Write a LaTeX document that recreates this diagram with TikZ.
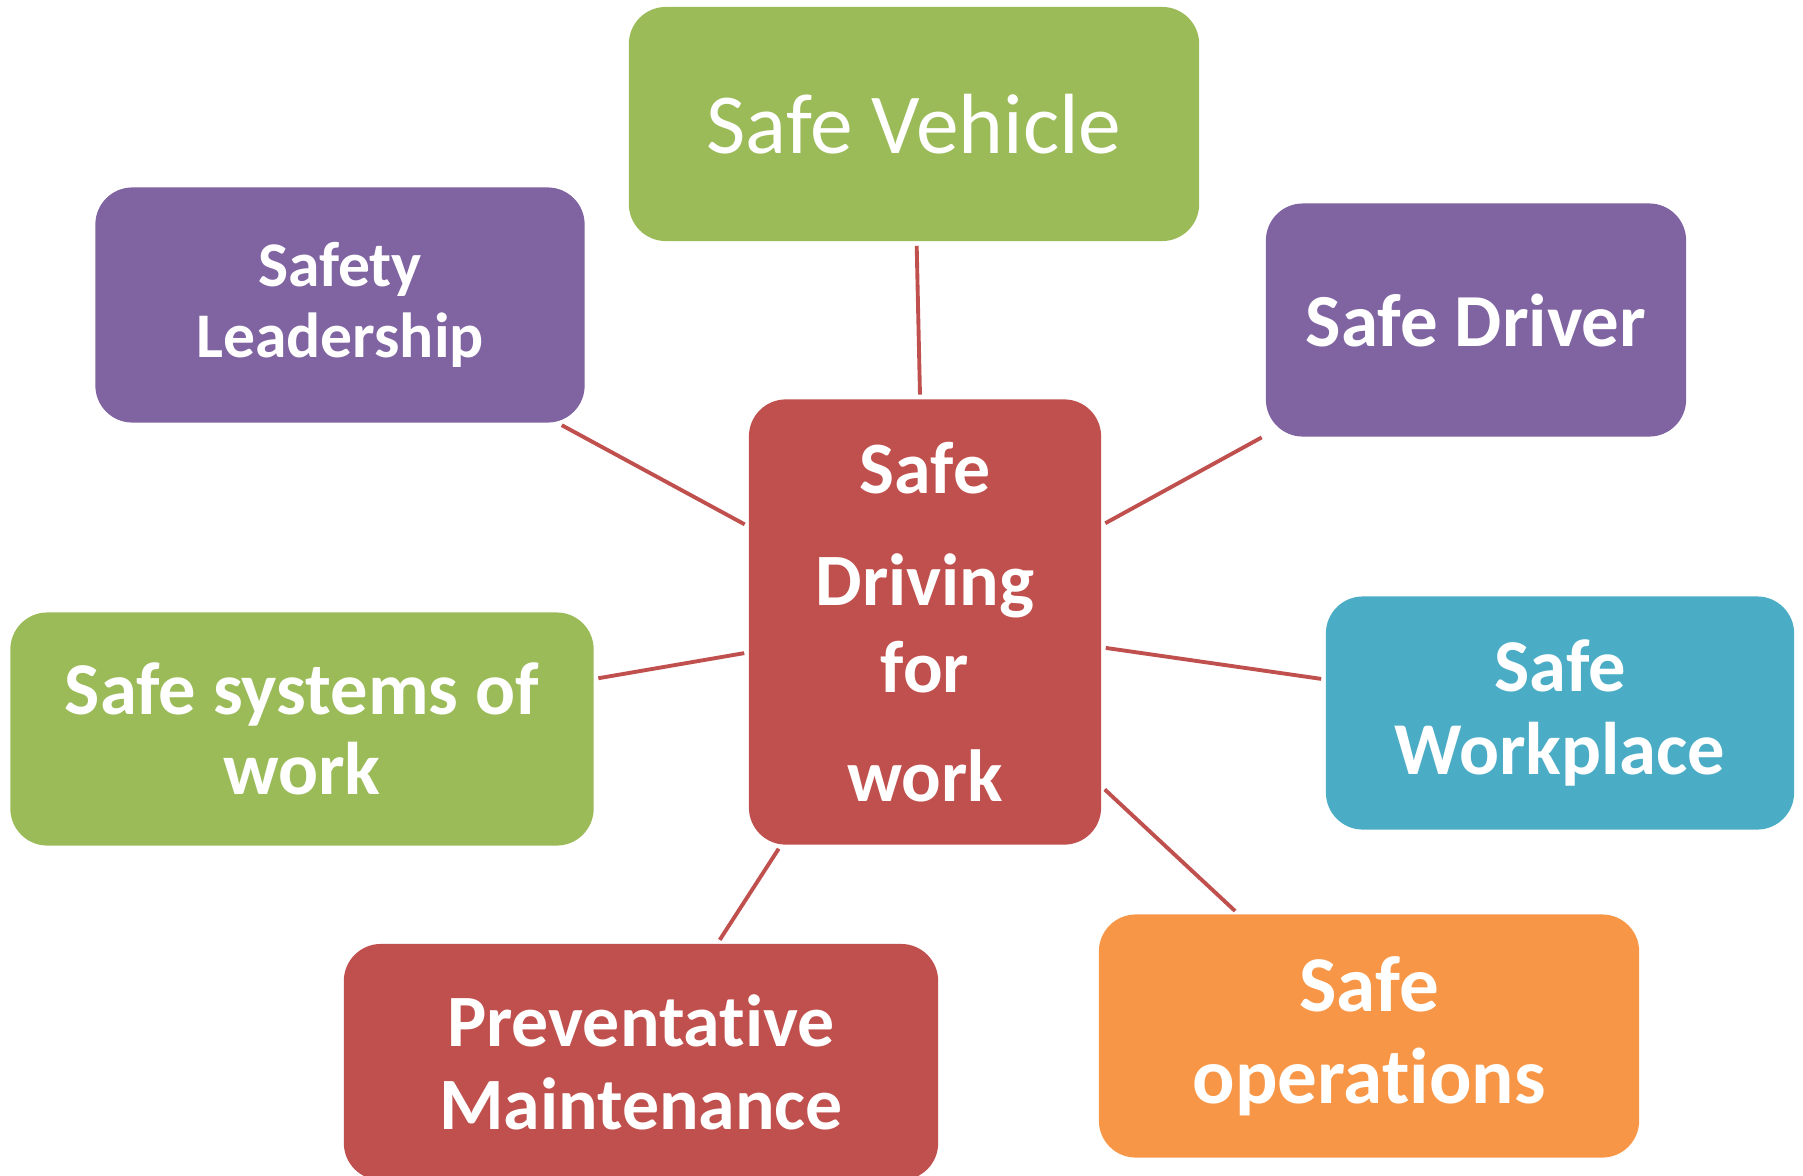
\documentclass[tikz,border=0pt]{standalone}
\usepackage{fontspec}
\setmainfont{Carlito}[RawFeature=-liga]
\definecolor{leafgreen}{HTML}{9BBB59}
\definecolor{plum}{HTML}{8064A2}
\definecolor{brick}{HTML}{C0504D}
\definecolor{aqua}{HTML}{4BACC6}
\definecolor{amber}{HTML}{F79646}

\begin{document}
\begin{tikzpicture}[x=0.01cm, y=-0.01cm, main/.style = {rounded corners=0.37cm, text=white, align=center, inner sep=0pt, minimum height=2.34cm}, link/.style = {draw=brick, line width=1.1pt, shorten <=0.04cm, shorten >=0.04cm}]
    \useasboundingbox (0,0) rectangle (1803,1175);
    \node[main, fill=brick, minimum width=3.52cm, minimum height=4.45cm, font=\bfseries\fontsize{21}{24.5}\selectfont] (hub) at (925,622) {Safe\\[7.4pt] Driving\\ for\\[6.5pt] work};
    \node[main, fill=leafgreen, minimum width=5.70cm, font=\fontsize{24.3}{30}\selectfont] (veh) at (914,124) {Safe Vehicle};
    \node[main, fill=plum, minimum width=4.89cm, minimum height=2.35cm, font=\bfseries\fontsize{18.1}{20.2}\selectfont] (lead) at (340,305) {Safety\\ Leadership};
    \node[main, fill=plum, minimum width=4.20cm, minimum height=2.33cm, font=\bfseries\fontsize{21.3}{25}\selectfont] (drv) at (1476,320) {Safe Driver};
    \node[main, fill=leafgreen, minimum width=5.83cm, minimum height=2.33cm, font=\bfseries\fontsize{21.2}{22.8}\selectfont] (sys) at (302,729) {Safe systems of\\ work};
    \node[main, fill=aqua, minimum width=4.68cm, minimum height=2.33cm, font=\bfseries\fontsize{21.2}{23.6}\selectfont] (wkp) at (1560,713) {Safe\\ Workplace};
    \node[main, fill=brick, minimum width=5.94cm, minimum height=2.36cm, font=\bfseries\fontsize{21}{23.6}\selectfont] (prev) at (641,1062) {Preventative\\ Maintenance};
    \node[main, fill=amber, minimum width=5.40cm, minimum height=2.43cm, font=\bfseries\fontsize{22.5}{26.2}\selectfont] (ops) at (1369,1036) {Safe\\ operations};
    % spokes from the centre box
    \draw[link] (hub) -- (veh);
    \draw[link] (hub) -- (lead);
    \draw[link] (hub) -- (drv);
    \draw[link] (hub) -- (sys);
    \draw[link] (hub) -- (wkp);
    \draw[link] (hub) -- (prev);
    \draw[link] (hub) -- (ops);
\end{tikzpicture}
\end{document}
